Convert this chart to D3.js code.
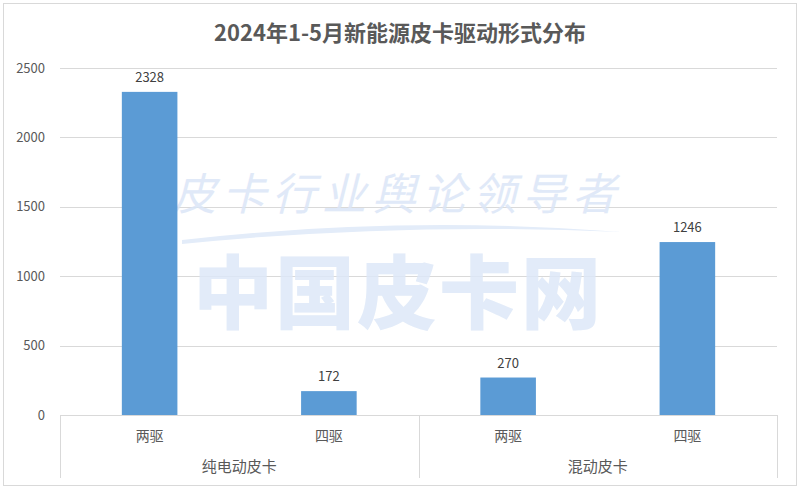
<!DOCTYPE html>
<html><head><meta charset="utf-8">
<script src="https://cdn.jsdelivr.net/npm/d3@7/dist/d3.min.js"></script>
<style>body{margin:0;background:#fff}svg{display:block}</style>
</head><body>
<svg id="c" width="800" height="489"></svg>
<script>
const title = "2024年1-5月新能源皮卡驱动形式分布";
const groups = ["纯电动皮卡", "混动皮卡"];
const categories = ["两驱", "四驱", "两驱", "四驱"];
const categoryGroup = [0, 0, 1, 1];
const values = [2328, 172, 270, 1246];
const yTicks = [0, 500, 1000, 1500, 2000, 2500];

(function(){
const svg = d3.select("#c");
const font = "'Noto Sans CJK SC','Microsoft YaHei',sans-serif";
const pLeft = 60, pRight = 777, pTop = 68, pBottom = 415;

svg.append("rect").attr("x",3.5).attr("y",3.5).attr("width",793).attr("height",482)
  .attr("fill","#fff").attr("stroke","#d9d9d9").attr("stroke-width",1);

const x = d3.scaleBand().domain(d3.range(categories.length)).range([pLeft,pRight]).paddingInner(0.69).paddingOuter(0.345);
const y = d3.scaleLinear().domain([0,2500]).range([pBottom,pTop]);

// gridlines
svg.append("g").selectAll("line").data(yTicks.slice(1)).join("line")
  .attr("x1",pLeft).attr("x2",pRight).attr("y1",d=>Math.round(y(d))+0.5).attr("y2",d=>Math.round(y(d))+0.5)
  .attr("stroke","#d9d9d9");

// y labels
svg.append("g").selectAll("text").data(yTicks).join("text")
  .attr("x",45).attr("y",d=>y(d)).attr("dy","0.35em").attr("text-anchor","end")
  .attr("font-family",font).attr("font-size",13).attr("fill","#595959").text(d=>d);

// watermark
const wm = svg.append("g").attr("pointer-events","none");
wm.append("text").attr("x",397).attr("y",210).attr("text-anchor","middle")
  .attr("font-family","'Noto Sans CJK SC',sans-serif").attr("font-size",44).attr("font-style","italic")
  .attr("fill","#dbe6f7").attr("opacity",0.85).attr("letter-spacing",6).text("皮卡行业舆论领导者");
wm.append("path").attr("d","M182,240 Q400,215 622,232 Q400,222 182,244 Z").attr("fill","#e3ecf9");
wm.append("text").attr("x",398).attr("y",322).attr("text-anchor","middle")
  .attr("font-family","'Noto Sans CJK SC',sans-serif").attr("font-weight",900).attr("font-size",80)
  .attr("fill","#dde8f8").attr("opacity",0.85).attr("letter-spacing",2).text("中国皮卡网");

// bars
svg.append("g").selectAll("rect").data(values).join("rect")
  .attr("x",(d,i)=>x(i)).attr("width",x.bandwidth())
  .attr("y",d=>y(d)).attr("height",d=>pBottom-y(d)).attr("fill","#5b9bd5");

// value labels
svg.append("g").selectAll("text").data(values).join("text")
  .attr("x",(d,i)=>x(i)+x.bandwidth()/2).attr("y",d=>y(d)-10).attr("text-anchor","middle")
  .attr("font-family",font).attr("font-size",13).attr("fill","#404040").text(d=>d);

// axis baseline
svg.append("line").attr("x1",pLeft).attr("x2",pRight).attr("y1",pBottom+0.5).attr("y2",pBottom+0.5).attr("stroke","#d9d9d9");
// group separators
const step = x.step();
const sepX = [pLeft, pLeft + 2*step, pRight];
svg.append("g").selectAll("line").data(sepX).join("line")
  .attr("x1",d=>Math.round(d)+0.5).attr("x2",d=>Math.round(d)+0.5).attr("y1",pBottom).attr("y2",478)
  .attr("stroke","#d9d9d9");

// category labels
svg.append("g").selectAll("text").data(categories).join("text")
  .attr("x",(d,i)=>x(i)+x.bandwidth()/2).attr("y",436).attr("dy","0.35em").attr("text-anchor","middle")
  .attr("font-family",font).attr("font-size",14).attr("fill","#595959").text(d=>d);
// group labels
svg.append("g").selectAll("text").data(groups).join("text")
  .attr("x",(d,i)=>(sepX[i]+sepX[i+1])/2).attr("y",467).attr("dy","0.35em").attr("text-anchor","middle")
  .attr("font-family",font).attr("font-size",15).attr("fill","#595959").text(d=>d);

// title
svg.append("text").attr("x",400).attr("y",33).attr("dy","0.35em").attr("text-anchor","middle")
  .attr("font-family",font).attr("font-weight","bold").attr("font-size",22).attr("fill","#595959").text(title);
})();
</script>
</body></html>
